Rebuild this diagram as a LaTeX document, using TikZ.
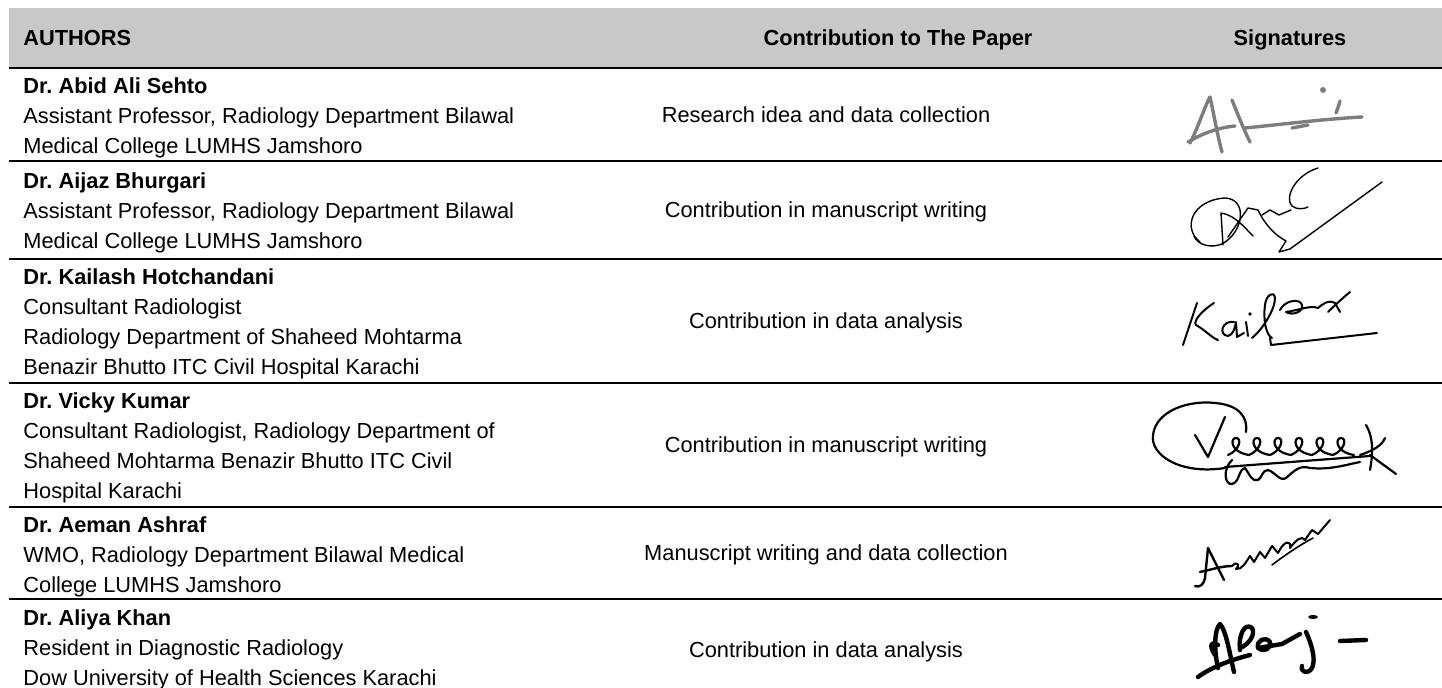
\documentclass[tikz,border=0pt]{standalone}
\usepackage{fontspec}
\setmainfont{Liberation Sans}
\frenchspacing
\definecolor{headgray}{RGB}{200,200,200}
\definecolor{inkgray}{RGB}{125,125,125}
\tikzset{
  cell/.style={inner sep=0pt, font=\fontsize{10.9}{15}\selectfont},
  author/.style={cell, align=left, anchor=north west},
  contrib/.style={cell, text height=7.9pt, text depth=2.3pt},
  head/.style={contrib, font=\fontsize{10.9}{15}\selectfont\bfseries},
  rule/.style={line width=1pt},
  sig/.style={line width=0.7pt, line cap=round, line join=round},
  sigsoft/.style={sig, draw=inkgray, line width=1.7pt},
  sigbold/.style={sig, line width=2.2pt}
}

\begin{document}
\begin{tikzpicture}[x=0.5pt, y=-0.5pt]
  \useasboundingbox (0, 0) rectangle (1442, 688);
  \fill [headgray] (9, 8) rectangle (1442, 68);
  \foreach \y in {68, 161, 259, 383, 507, 599}
    \draw [rule] (9, \y) -- (1442, \y);

  \node [head, anchor=west] (hauthors) at (23, 40) {AUTHORS};
  \node [head] (hcontrib) at (898, 40) {Contribution to The Paper};
  \node [head] (hsign) at (1290, 40) {Signatures};

  \node [author] (abid) at (23, 77) {\textbf{Dr. Abid Ali Sehto}\\Assistant Professor, Radiology Department Bilawal\\Medical College LUMHS Jamshoro};
  \node [author] (aijaz) at (23, 172) {\textbf{Dr. Aijaz Bhurgari}\\Assistant Professor, Radiology Department Bilawal\\Medical College LUMHS Jamshoro};
  \node [author] (kailash) at (23, 268) {\textbf{Dr. Kailash Hotchandani}\\Consultant Radiologist\\Radiology Department of Shaheed Mohtarma\\Benazir Bhutto ITC Civil Hospital Karachi};
  \node [author] (vicky) at (23, 392) {\textbf{Dr. Vicky Kumar}\\Consultant Radiologist, Radiology Department of\\Shaheed Mohtarma Benazir Bhutto ITC Civil\\Hospital Karachi};
  \node [author] (aeman) at (23, 516) {\textbf{Dr. Aeman Ashraf}\\WMO, Radiology Department Bilawal Medical\\College LUMHS Jamshoro};
  \node [author] (aliya) at (23, 609) {\textbf{Dr. Aliya Khan}\\Resident in Diagnostic Radiology\\Dow University of Health Sciences Karachi};

  \node [contrib] (cabid) at (826, 117) {Research idea and data collection};
  \node [contrib] (caijaz) at (826, 212) {Contribution in manuscript writing};
  \node [contrib] (ckailash) at (826, 323) {Contribution in data analysis};
  \node [contrib] (cvicky) at (826, 447) {Contribution in manuscript writing};
  \node [contrib] (caeman) at (826, 555) {Manuscript writing and data collection};
  \node [contrib] (caliya) at (826, 652) {Contribution in data analysis};

  \draw [sigsoft] (1190, 143) .. controls (1198, 128) and (1204, 108) .. (1210, 97)
                  .. controls (1214, 115) and (1218, 138) .. (1222, 152);
  \draw [sigsoft] (1188, 142) .. controls (1200, 135) and (1215, 128) .. (1235, 126);
  \draw [sigsoft] (1232, 100) .. controls (1238, 115) and (1244, 130) .. (1250, 142);
  \draw [sigsoft] (1245, 128) .. controls (1285, 124) and (1325, 119) .. (1362, 117);
  \draw [sigsoft] (1292, 128) -- (1308, 125);
  \draw [sigsoft] (1336, 113) .. controls (1338, 108) and (1339, 104) .. (1340, 101);
  \fill [inkgray] (1323, 90) circle (3);

  \fill [white] (1161, 163) rectangle (1393, 257);
  \draw [sig] (1200, 242) .. controls (1182, 228) and (1192, 200) .. (1225, 198)
              .. controls (1248, 199) and (1244, 232) .. (1222, 244)
              .. controls (1212, 248) and (1198, 246) .. (1194, 236);
  \draw [sig] (1223, 245) -- (1221, 213) .. controls (1235, 215) and (1245, 228) .. (1253, 236);
  \draw [sig] (1228, 237) -- (1248, 208) -- (1258, 210)
              .. controls (1265, 225) and (1275, 235) .. (1286, 241)
              -- (1279, 252) -- (1290, 249) -- (1382, 182);
  \draw [sig] (1262, 215) -- (1270, 210) -- (1279, 215) -- (1291, 210);
  \draw [sig] (1318, 168) .. controls (1295, 175) and (1284, 198) .. (1292, 206)
              .. controls (1297, 210) and (1304, 209) .. (1308, 207);

  \draw [sig, line width=1pt] (1197, 303) .. controls (1192, 318) and (1187, 333) .. (1183, 345);
  \draw [sig, line width=1pt] (1214, 303) .. controls (1200, 312) and (1193, 322) .. (1196, 325)
              .. controls (1205, 330) and (1212, 338) .. (1218, 340);
  \draw [sig, line width=1pt] (1234, 322) .. controls (1222, 320) and (1218, 335) .. (1228, 336)
              .. controls (1233, 335) and (1235, 328) .. (1236, 322) -- (1237, 337) -- (1244, 333);
  \draw [sig, line width=1pt] (1246, 322) -- (1248, 336);
  \fill (1250, 314) circle (1.8);
  \draw [sig, line width=1pt] (1252, 338) .. controls (1262, 330) and (1275, 310) .. (1275, 298)
              .. controls (1274, 290) and (1266, 295) .. (1265, 305)
              .. controls (1263, 320) and (1266, 335) .. (1272, 338);
  \draw [sig, line width=1pt] (1280, 310) .. controls (1285, 300) and (1300, 298) .. (1302, 305)
              .. controls (1304, 312) and (1292, 316) .. (1286, 312)
              .. controls (1300, 310) and (1310, 305) .. (1318, 308)
              .. controls (1325, 302) and (1330, 300) .. (1335, 303) -- (1340, 312);
  \draw [sig, line width=1pt] (1328, 312) .. controls (1335, 305) and (1345, 296) .. (1350, 292);
  \draw [sig, line width=1pt] (1270, 338) -- (1271, 345) -- (1377, 333);

  \draw [sig, line width=1.1pt] (1225, 468) .. controls (1180, 475) and (1150, 455) .. (1153, 435)
              .. controls (1156, 410) and (1190, 400) .. (1215, 403)
              .. controls (1240, 405) and (1248, 418) .. (1246, 432);
  \draw [sig, line width=1.1pt] (1195, 435) -- (1208, 457) -- (1225, 417);
  \foreach \i in {0, ..., 5}
    \draw [sig, line width=1.1pt] ({1228 + 21*\i}, 455) .. controls ({1240 + 21*\i}, 450) and ({1242 + 21*\i}, 438) .. ({1236 + 21*\i}, 438)
              .. controls ({1230 + 21*\i}, 438) and ({1230 + 21*\i}, 452) .. ({1249 + 21*\i}, 455);
  \draw [sig, line width=1.1pt] (1366, 425) .. controls (1372, 435) and (1374, 448) .. (1370, 470);
  \draw [sig, line width=1.1pt] (1360, 455) .. controls (1375, 450) and (1382, 445) .. (1385, 438);
  \draw [sig, line width=1.1pt] (1370, 455) -- (1396, 474);
  \draw [sig, line width=1.1pt] (1225, 467) -- (1370, 456);
  \draw [sig, line width=1.1pt] (1232, 460) .. controls (1222, 470) and (1225, 485) .. (1232, 484)
              .. controls (1240, 482) and (1238, 470) .. (1245, 468)
              .. controls (1250, 475) and (1252, 482) .. (1258, 480)
              .. controls (1262, 478) and (1262, 470) .. (1268, 470)
              .. controls (1275, 472) and (1280, 482) .. (1286, 478)
              .. controls (1295, 470) and (1300, 465) .. (1310, 468)
              .. controls (1330, 470) and (1345, 465) .. (1360, 462);

  \draw [sig, line width=1.2pt] (1195, 586) .. controls (1200, 588) and (1204, 584) .. (1205, 578)
              -- (1208, 548) -- (1224, 580);
  \draw [sig, line width=1.2pt] (1200, 572) .. controls (1210, 570) and (1222, 566) .. (1232, 566);
  \draw [sig, line width=1pt] (1232, 566) .. controls (1238, 560) and (1240, 566) .. (1236, 569)
              .. controls (1242, 570) and (1246, 562) .. (1250, 556) -- (1254, 562) -- (1260, 552)
              -- (1265, 558) -- (1272, 546) -- (1278, 553)
              .. controls (1284, 540) and (1292, 540) .. (1290, 548)
              .. controls (1296, 540) and (1302, 535) .. (1305, 540) -- (1312, 530) -- (1318, 534) -- (1330, 520);
  \draw [sig, line width=0.8pt] (1272, 565) .. controls (1285, 555) and (1300, 545) .. (1313, 538);

  \draw [sigbold] (1198, 677) .. controls (1210, 668) and (1230, 660) .. (1250, 655);
  \draw [sigbold] (1218, 668) .. controls (1214, 650) and (1214, 630) .. (1220, 624)
              .. controls (1226, 630) and (1230, 655) .. (1234, 672);
  \draw [sigbold] (1215, 655) .. controls (1208, 645) and (1212, 640) .. (1218, 645);
  \draw [sigbold] (1240, 650) .. controls (1238, 635) and (1245, 622) .. (1252, 628)
              .. controls (1256, 635) and (1248, 645) .. (1240, 648);
  \draw [sigbold] (1258, 648) .. controls (1256, 640) and (1266, 636) .. (1270, 642)
              .. controls (1272, 650) and (1262, 652) .. (1258, 648) -- (1282, 644) -- (1300, 634);
  \draw [sigbold] (1306, 632) .. controls (1312, 645) and (1316, 660) .. (1312, 668)
              .. controls (1308, 675) and (1300, 672) .. (1302, 666);
  \fill (1313, 617) ellipse (5 and 2);
  \draw [sigbold] (1340, 641) -- (1366, 640);
\end{tikzpicture}
\end{document}
